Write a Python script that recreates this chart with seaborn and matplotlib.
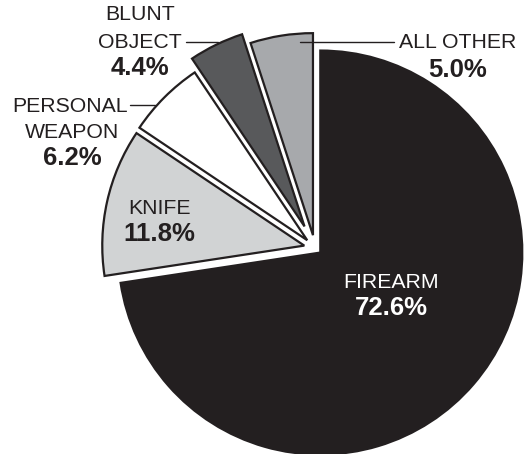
import matplotlib
matplotlib.use("Agg")
import matplotlib.pyplot as plt
import seaborn as sns

# weapon types and shares (%)
weapons = ["FIREARM", "KNIFE", "PERSONAL\nWEAPON", "BLUNT\nOBJECT", "ALL OTHER"]
shares = [72.6, 11.8, 6.2, 4.4, 5.0]
colors = ["#231f20", "#d1d3d4", "#ffffff", "#58595b", "#a7a9ac"]
# offsets of each wedge from the pie centre, in pixels
explode = [7, 11, 11, 24, 13]

sns.set_theme(style="white")
plt.rcParams["font.family"] = ["Liberation Sans", "DejaVu Sans"]

W, H = 529, 454
fig = plt.figure(figsize=(W / 100, H / 100), dpi=100)
ax = fig.add_axes([0, 0, 1, 1])

dark = "#231f20"
wedges, _ = ax.pie(shares, colors=colors, explode=explode, startangle=90,
                   counterclock=False, center=(315, H - 248), radius=202,
                   wedgeprops=dict(edgecolor=dark, linewidth=1.6))
ax.set_xlim(0, W)
ax.set_ylim(0, H)
ax.set_aspect("equal")
ax.axis("off")

name_fs = 15.3
pct_fs = 18.5

def label(x, y, name, pct, color=dark, gap=26):
    # x, y are pixel positions measured from top-left
    ax.text(x, H - y, name, ha="center", va="center", fontsize=name_fs,
            color=color)
    ax.text(x, H - y - gap, pct, ha="center", va="center", fontsize=pct_fs,
            fontweight="bold", color=color)

label(391, 282, weapons[0], f"{shares[0]}%", color="white")
label(159, 208, weapons[1], f"{shares[1]}%")
ax.text(70, H - 107, "PERSONAL", ha="center", va="center", fontsize=name_fs, color=dark)
label(72, 133, "WEAPON", f"{shares[2]}%", gap=25)
ax.text(140, H - 15, "BLUNT", ha="center", va="center", fontsize=name_fs, color=dark)
label(140, 42, "OBJECT", f"{shares[3]}%", gap=26)
label(458, 42, weapons[4], f"{shares[4]}%", gap=28)

# leader lines
for x0, x1, y in [(130, 155, 105), (186, 218, 42), (300, 394, 42)]:
    ax.plot([x0, x1], [H - y, H - y], color=dark, lw=1.0)

fig.savefig("out.png", dpi=100)
